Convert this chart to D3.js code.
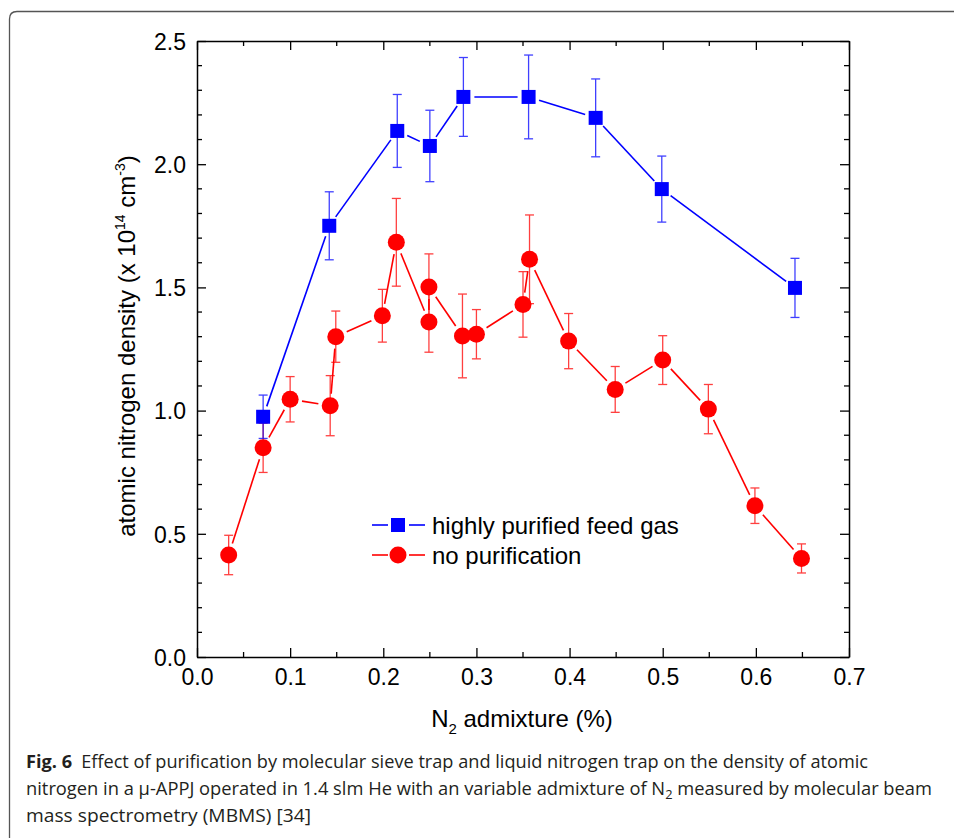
<!DOCTYPE html>
<html>
<head>
<meta charset="utf-8">
<script src="https://cdn.jsdelivr.net/npm/d3@7"></script>
<style>
  body { margin: 0; background: #fff; }
  svg { display: block; }
</style>
</head>
<body>
<script>
// N2 admixture (%) and atomic nitrogen density (x 1e14 cm^-3)
var purifiedX   = [0.071, 0.142, 0.215, 0.250, 0.286, 0.356, 0.428, 0.499, 0.642];
var purifiedY   = [0.975, 1.750, 2.135, 2.074, 2.273, 2.273, 2.188, 1.899, 1.498];
var purifiedErr = [0.088, 0.138, 0.148, 0.145, 0.160, 0.170, 0.158, 0.134, 0.120];

var noPurX   = [0.034, 0.071, 0.100, 0.143, 0.149, 0.199, 0.214, 0.249, 0.249, 0.285, 0.300, 0.350, 0.357, 0.399, 0.449, 0.500, 0.549, 0.599, 0.649];
var noPurY   = [0.414, 0.849, 1.046, 1.020, 1.300, 1.385, 1.683, 1.360, 1.502, 1.303, 1.310, 1.431, 1.614, 1.282, 1.086, 1.205, 1.006, 0.614, 0.400];
var noPurErr = [0.080, 0.100, 0.092, 0.122, 0.104, 0.107, 0.178, 0.123, 0.134, 0.170, 0.100, 0.133, 0.180, 0.112, 0.093, 0.099, 0.100, 0.072, 0.059];

var xTicks = [0.0, 0.1, 0.2, 0.3, 0.4, 0.5, 0.6, 0.7];
var yTicks = [0.0, 0.5, 1.0, 1.5, 2.0, 2.5];

var captionLines = [
  "Effect of purification by molecular sieve trap and liquid nitrogen trap on the density of atomic",
  "nitrogen in a \u03bc-APPJ operated in 1.4 slm He with an variable admixture of N",
  "mass spectrometry (MBMS) [34]"
];

function init() {
    var width = 954, height = 838;
    var left = 197, right = 849, top = 41, bottom = 657;

    var svg = d3.select("body").append("svg")
        .attr("width", width)
        .attr("height", height);

    // rounded frame like the journal figure box
    svg.append("path")
        .attr("d", "M9.5,838 L9.5,19 Q9.5,11.5 17,11.5 L954,11.5")
        .attr("fill", "none")
        .attr("stroke", "#555")
        .attr("stroke-width", 1.3);

    var x = d3.scaleLinear().domain([0, 0.7]).range([left, right]);
    var y = d3.scaleLinear().domain([0, 2.5]).range([bottom, top]);

    var font = "'Liberation Sans', Arial, Helvetica, sans-serif";

    // axes: major + minor ticks pointing inward, on all four sides
    function styleAxis(g) {
        g.selectAll("path").attr("stroke", "#000").attr("stroke-width", 1.5);
        g.selectAll("line").attr("stroke", "#000").attr("stroke-width", 1.3);
    }
    var xMinor = d3.range(0.05, 0.7, 0.1);
    var yMinor = d3.range(0, 2.5, 0.1).filter(function (v) { return Math.abs(v * 2 - Math.round(v * 2)) > 0.01; });

    var gx = svg.append("g").attr("transform", "translate(0," + bottom + ")")
        .call(d3.axisBottom(x).tickValues(xTicks).tickSize(-9).tickPadding(12).tickFormat(d3.format(".1f")).tickSizeOuter(0));
    gx.selectAll("text").attr("font-size", 23).attr("font-family", font).attr("fill", "#000");
    styleAxis(gx);
    var gy = svg.append("g").attr("transform", "translate(" + left + ",0)")
        .call(d3.axisLeft(y).tickValues(yTicks).tickSize(-9).tickPadding(11).tickFormat(d3.format(".1f")).tickSizeOuter(0));
    gy.selectAll("text").attr("font-size", 23).attr("font-family", font).attr("fill", "#000").attr("dy", "0.36em");
    styleAxis(gy);
    var gt = svg.append("g").attr("transform", "translate(0," + top + ")")
        .call(d3.axisTop(x).tickValues(xTicks).tickSize(-9).tickFormat("").tickSizeOuter(0));
    styleAxis(gt);
    var gr = svg.append("g").attr("transform", "translate(" + right + ",0)")
        .call(d3.axisRight(y).tickValues(yTicks).tickSize(-9).tickFormat("").tickSizeOuter(0));
    styleAxis(gr);

    // minor ticks
    [[bottom, -1], [top, 1]].forEach(function (s) {
        svg.append("g").selectAll("line").data(xMinor).enter().append("line")
            .attr("x1", function (d) { return x(d); }).attr("x2", function (d) { return x(d); })
            .attr("y1", s[0]).attr("y2", s[0] + s[1] * 5)
            .attr("stroke", "#000").attr("stroke-width", 1.3);
    });
    [[left, 1], [right, -1]].forEach(function (s) {
        svg.append("g").selectAll("line").data(yMinor).enter().append("line")
            .attr("y1", function (d) { return y(d); }).attr("y2", function (d) { return y(d); })
            .attr("x1", s[0]).attr("x2", s[0] + s[1] * 5)
            .attr("stroke", "#000").attr("stroke-width", 1.3);
    });

    // axis titles
    var xl = svg.append("text")
        .attr("x", 522).attr("y", 727)
        .attr("text-anchor", "middle")
        .attr("font-family", font).attr("font-size", 24);
    xl.append("tspan").text("N");
    xl.append("tspan").attr("font-size", 15).attr("dy", 7).text("2");
    xl.append("tspan").attr("dy", -7).text(" admixture (%)");

    var yl = svg.append("text")
        .attr("transform", "translate(135,346) rotate(-90)")
        .attr("text-anchor", "middle")
        .attr("font-family", font).attr("font-size", 24);
    yl.append("tspan").text("atomic nitrogen density (x 10");
    yl.append("tspan").attr("font-size", 14).attr("dy", -10).text("14");
    yl.append("tspan").attr("dy", 10).text(" cm");
    yl.append("tspan").attr("font-size", 14).attr("dy", -10).text("-3");
    yl.append("tspan").attr("dy", 10).text(")");

    // draw a series: polyline with gaps at markers, error bars, markers
    function drawSeries(xs, ys, errs, color, shape, gap) {
        var pts = xs.map(function (d, i) { return [x(d), y(ys[i])]; });
        var g = svg.append("g");
        for (var i = 0; i < pts.length - 1; i++) {
            var a = pts[i], b = pts[i + 1];
            var dx = b[0] - a[0], dy = b[1] - a[1];
            var len = Math.sqrt(dx * dx + dy * dy);
            if (len <= 2 * gap) continue;
            var ux = dx / len, uy = dy / len;
            g.append("line")
                .attr("x1", a[0] + ux * gap).attr("y1", a[1] + uy * gap)
                .attr("x2", b[0] - ux * gap).attr("y2", b[1] - uy * gap)
                .attr("stroke", color).attr("stroke-width", 1.6);
        }
        // error bars
        var eb = svg.append("g").attr("stroke", color).attr("stroke-width", 1.3).attr("opacity", 0.75);
        xs.forEach(function (d, i) {
            var cx = x(d), y0 = y(ys[i] - errs[i]), y1 = y(ys[i] + errs[i]);
            eb.append("line").attr("x1", cx).attr("x2", cx).attr("y1", y0).attr("y2", y1);
            eb.append("line").attr("x1", cx - 4.5).attr("x2", cx + 4.5).attr("y1", y0).attr("y2", y0);
            eb.append("line").attr("x1", cx - 4.5).attr("x2", cx + 4.5).attr("y1", y1).attr("y2", y1);
        });
        var mg = svg.append("g").attr("fill", color);
        pts.forEach(function (p) {
            if (shape === "square") {
                mg.append("rect").attr("x", p[0] - 7).attr("y", p[1] - 7).attr("width", 14).attr("height", 14);
            } else {
                mg.append("circle").attr("cx", p[0]).attr("cy", p[1]).attr("r", 8.5);
            }
        });
    }

    drawSeries(noPurX, noPurY, noPurErr, "#ff0000", "circle", 12);
    drawSeries(purifiedX, purifiedY, purifiedErr, "#0000ff", "square", 11);

    // legend
    var legend = [
        { label: "highly purified feed gas", color: "#0000ff", shape: "square", y: 525 },
        { label: "no purification", color: "#ff0000", shape: "circle", y: 555 }
    ];
    legend.forEach(function (l) {
        var g = svg.append("g");
        g.append("line").attr("x1", 372).attr("x2", 388).attr("y1", l.y).attr("y2", l.y)
            .attr("stroke", l.color).attr("stroke-width", 1.6);
        g.append("line").attr("x1", 409).attr("x2", 425).attr("y1", l.y).attr("y2", l.y)
            .attr("stroke", l.color).attr("stroke-width", 1.6);
        if (l.shape === "square") {
            g.append("rect").attr("x", 391).attr("y", l.y - 7).attr("width", 14).attr("height", 14).attr("fill", l.color);
        } else {
            g.append("circle").attr("cx", 398).attr("cy", l.y).attr("r", 8.5).attr("fill", l.color);
        }
        g.append("text").attr("x", 432).attr("y", l.y + 8.5)
            .attr("font-family", font).attr("font-size", 24).text(l.label);
    });

    // caption
    var capFont = "'Open Sans', 'Noto Sans', sans-serif";
    var cap = svg.append("g").attr("font-family", capFont).attr("font-size", 18.5).attr("fill", "#231f20");
    var c1 = cap.append("text").attr("x", 26).attr("y", 768)
        .attr("textLength", 842).attr("lengthAdjust", "spacingAndGlyphs");
    c1.append("tspan").attr("font-weight", "bold").text("Fig. 6");
    c1.append("tspan").text("\u2002" + captionLines[0]);
    var c2 = cap.append("text").attr("x", 26).attr("y", 795)
        .attr("textLength", 906).attr("lengthAdjust", "spacingAndGlyphs");
    c2.append("tspan").text(captionLines[1]);
    c2.append("tspan").attr("font-size", 13).attr("dy", 4).text("2");
    c2.append("tspan").attr("dy", -4).text(" measured by molecular beam");
    cap.append("text").attr("x", 26).attr("y", 822)
        .attr("textLength", 285).attr("lengthAdjust", "spacingAndGlyphs")
        .text(captionLines[2]);
}

window.onload = init;
</script>
</body>
</html>
